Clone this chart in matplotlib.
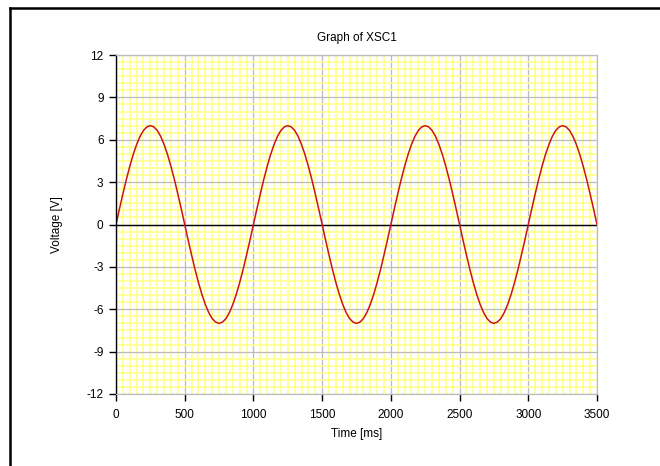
import matplotlib.pyplot as plt
from matplotlib.lines import Line2D
from matplotlib.ticker import MultipleLocator

plt.rcParams['font.family'] = ['Liberation Sans', 'DejaVu Sans']
plt.rcParams['axes.unicode_minus'] = False

# time axis in ms, sampled every 25 ms
tempo = list(range(0, 3501, 25))
# voltage (V)
tensao = [
    0, 1.10, 2.16, 3.18, 4.11, 4.95, 5.66, 6.24, 6.66, 6.91,
    7.0, 6.91, 6.66, 6.24, 5.66, 4.95, 4.11, 3.18, 2.16, 1.10,
    0, -1.10, -2.16, -3.18, -4.11, -4.95, -5.66, -6.24, -6.66, -6.91,
    -7.0, -6.91, -6.66, -6.24, -5.66, -4.95, -4.11, -3.18, -2.16, -1.10,
    0, 1.10, 2.16, 3.18, 4.11, 4.95, 5.66, 6.24, 6.66, 6.91,
    7.0, 6.91, 6.66, 6.24, 5.66, 4.95, 4.11, 3.18, 2.16, 1.10,
    0, -1.10, -2.16, -3.18, -4.11, -4.95, -5.66, -6.24, -6.66, -6.91,
    -7.0, -6.91, -6.66, -6.24, -5.66, -4.95, -4.11, -3.18, -2.16, -1.10,
    0, 1.10, 2.16, 3.18, 4.11, 4.95, 5.66, 6.24, 6.66, 6.91,
    7.0, 6.91, 6.66, 6.24, 5.66, 4.95, 4.11, 3.18, 2.16, 1.10,
    0, -1.10, -2.16, -3.18, -4.11, -4.95, -5.66, -6.24, -6.66, -6.91,
    -7.0, -6.91, -6.66, -6.24, -5.66, -4.95, -4.11, -3.18, -2.16, -1.10,
    0, 1.10, 2.16, 3.18, 4.11, 4.95, 5.66, 6.24, 6.66, 6.91,
    7.0, 6.91, 6.66, 6.24, 5.66, 4.95, 4.11, 3.18, 2.16, 1.10,
    0,
]
x_ticks = [0, 500, 1000, 1500, 2000, 2500, 3000, 3500]
y_ticks = [-12, -9, -6, -3, 0, 3, 6, 9, 12]

fig = plt.figure(figsize=(6.6, 4.66), dpi=100)
ax = fig.add_axes([116 / 660, 1 - 394 / 466, 481 / 660, 339 / 466])

ax.set_xlim(0, 3500)
ax.set_ylim(-12, 12)
ax.set_xticks(x_ticks)
ax.set_yticks(y_ticks)
ax.xaxis.set_minor_locator(MultipleLocator(50))
ax.yaxis.set_minor_locator(MultipleLocator(0.5))

ax.grid(which='minor', color='#ffff8c', linewidth=1.2)
ax.grid(which='major', color='#bcbcbc', linewidth=0.9)
ax.set_axisbelow(True)

ax.axhline(0, color='black', linewidth=1.0)
ax.plot(tempo, tensao, color='#cc1414', linewidth=1.1)

for s in ['top', 'right', 'bottom']:
    ax.spines[s].set_color('#bcbcbc')
    ax.spines[s].set_linewidth(0.9)
ax.spines['left'].set_color('black')
ax.spines['left'].set_linewidth(1.0)

ax.tick_params(which='minor', length=0)
ax.tick_params(which='major', direction='out', length=5, width=1,
               labelsize=8.5, color='black', pad=4)
ax.tick_params(axis='x', which='major', pad=6)

ax.set_title('Graph of XSC1', fontsize=8.5, pad=10)
ax.set_xlabel('Time [ms]', fontsize=8.5, labelpad=5)
ax.set_ylabel('Voltage [V]', fontsize=8.5, labelpad=17)

# frame of the original screenshot (top and left edges only)
fig.add_artist(Line2D([10 / 660, 1.0], [1 - 8 / 466, 1 - 8 / 466],
                      color='black', linewidth=1.8, transform=fig.transFigure))
fig.add_artist(Line2D([10 / 660, 10 / 660], [0.0, 1 - 8 / 466],
                      color='black', linewidth=1.8, transform=fig.transFigure))

plt.savefig('out.png', dpi=100)
